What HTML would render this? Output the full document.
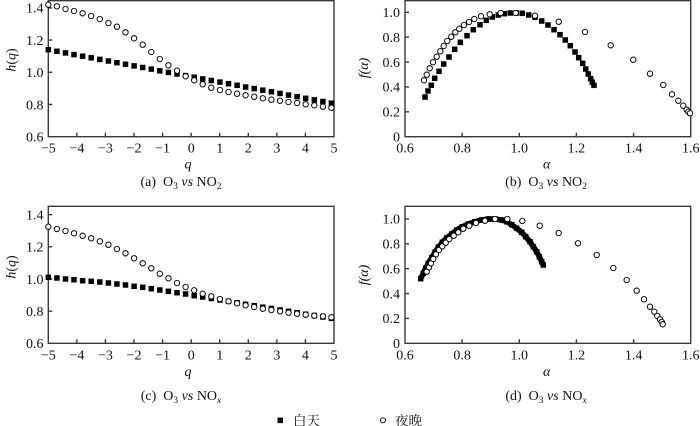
<!DOCTYPE html>
<html><head><meta charset="utf-8"><style>
html,body{margin:0;padding:0;background:#fff;}
svg{display:block;}
text{font-family:"Liberation Serif","Noto Serif CJK SC",serif;fill:#111;}
.t{font-size:14px;}
.cap{font-size:14px;}
.cj{font-family:"Liberation Serif","Noto Serif CJK SC","Noto Sans CJK SC",serif;font-size:13.5px;}
</style></head><body>
<svg width="700" height="426" viewBox="0 0 700 426" xmlns="http://www.w3.org/2000/svg" xmlns:xlink="http://www.w3.org/1999/xlink">
<defs>
<rect id="s" x="-2.75" y="-2.75" width="5.5" height="5.5" fill="#000"/>
</defs>
<rect width="700" height="426" fill="#fff"/>

<!-- ===== Panel (a) ===== -->
<g stroke="#3a3a3a" stroke-width="1.4" fill="none">
<rect x="48.3" y="0.7" width="285.7" height="136"/>
<path d="M48.3 104.5h4M48.3 72.3h4M48.3 40.1h4M48.3 7.9h4
M76.9 136.7v-4M105.4 136.7v-4M134 136.7v-4M162.6 136.7v-4M191.2 136.7v-4M219.7 136.7v-4M248.3 136.7v-4M276.9 136.7v-4M305.4 136.7v-4"/>
</g>
<g class="t" text-anchor="end">
<text x="43.5" y="141.5">0.6</text><text x="43.5" y="109.3">0.8</text><text x="43.5" y="77.1">1.0</text><text x="43.5" y="44.9">1.2</text><text x="43.5" y="12.7">1.4</text>
</g>
<g class="t" text-anchor="middle">
<text x="48.3" y="152.5">−5</text><text x="76.9" y="152.5">−4</text><text x="105.4" y="152.5">−3</text><text x="134" y="152.5">−2</text><text x="162.6" y="152.5">−1</text><text x="191.2" y="152.5">0</text><text x="219.7" y="152.5">1</text><text x="248.3" y="152.5">2</text><text x="276.9" y="152.5">3</text><text x="305.4" y="152.5">4</text><text x="334" y="152.5">5</text>
<text x="188" y="168.5" font-style="italic">q</text>
<text class="cap" x="181" y="186">(a)&#160;&#160;O<tspan font-size="9.5" dy="3">3</tspan><tspan dy="-3"> </tspan><tspan font-style="italic">vs</tspan> NO<tspan font-size="9.5" dy="3">2</tspan></text>
</g>
<text class="t" transform="translate(15.5,60) rotate(-90)" text-anchor="middle"><tspan font-style="italic">h</tspan>(<tspan font-style="italic">q</tspan>)</text>

<g>
<use href="#s" x="48.3" y="49.7"/><use href="#s" x="56.9" y="51.3"/><use href="#s" x="65.5" y="52.9"/><use href="#s" x="74.0" y="54.6"/><use href="#s" x="82.6" y="56.2"/><use href="#s" x="91.2" y="57.8"/><use href="#s" x="99.8" y="59.4"/><use href="#s" x="108.4" y="61.0"/><use href="#s" x="116.9" y="62.7"/><use href="#s" x="125.5" y="64.3"/><use href="#s" x="134.1" y="65.9"/><use href="#s" x="142.7" y="67.5"/><use href="#s" x="151.3" y="69.1"/><use href="#s" x="159.8" y="70.8"/><use href="#s" x="168.4" y="72.4"/><use href="#s" x="177.0" y="74.0"/><use href="#s" x="185.6" y="75.6"/><use href="#s" x="194.2" y="77.2"/><use href="#s" x="202.7" y="78.9"/><use href="#s" x="211.3" y="80.5"/><use href="#s" x="219.9" y="82.1"/><use href="#s" x="228.5" y="83.7"/><use href="#s" x="237.1" y="85.3"/><use href="#s" x="245.6" y="87.0"/><use href="#s" x="254.2" y="88.6"/><use href="#s" x="262.8" y="90.2"/><use href="#s" x="271.4" y="91.8"/><use href="#s" x="280.0" y="93.4"/><use href="#s" x="288.5" y="95.1"/><use href="#s" x="297.1" y="96.7"/><use href="#s" x="305.7" y="98.3"/><use href="#s" x="314.3" y="99.9"/><use href="#s" x="322.9" y="101.5"/><use href="#s" x="331.4" y="103.2"/>
</g>
<g fill="#fff" stroke="#000" stroke-width="0.95">
<circle cx="48.3" cy="4.7" r="2.7"/><circle cx="56.9" cy="6.3" r="2.7"/><circle cx="65.5" cy="9" r="2.7"/><circle cx="74.0" cy="11" r="2.7"/><circle cx="82.6" cy="13.3" r="2.7"/><circle cx="91.2" cy="16" r="2.7"/><circle cx="99.8" cy="19" r="2.7"/><circle cx="108.4" cy="23" r="2.7"/><circle cx="116.9" cy="26.7" r="2.7"/><circle cx="125.5" cy="32.3" r="2.7"/><circle cx="134.1" cy="38.3" r="2.7"/><circle cx="142.7" cy="44.7" r="2.7"/><circle cx="151.3" cy="52" r="2.7"/><circle cx="159.8" cy="59" r="2.7"/><circle cx="168.4" cy="65.3" r="2.7"/><circle cx="177.0" cy="70.7" r="2.7"/><circle cx="185.6" cy="76.3" r="2.7"/><circle cx="194.2" cy="80.3" r="2.7"/><circle cx="202.7" cy="84.3" r="2.7"/><circle cx="211.3" cy="87.7" r="2.7"/><circle cx="219.9" cy="90" r="2.7"/><circle cx="228.5" cy="92" r="2.7"/><circle cx="237.1" cy="93.7" r="2.7"/><circle cx="245.6" cy="95.3" r="2.7"/><circle cx="254.2" cy="96.7" r="2.7"/><circle cx="262.8" cy="98.3" r="2.7"/><circle cx="271.4" cy="99.7" r="2.7"/><circle cx="280.0" cy="100.7" r="2.7"/><circle cx="288.5" cy="102" r="2.7"/><circle cx="297.1" cy="103" r="2.7"/><circle cx="305.7" cy="104.3" r="2.7"/><circle cx="314.3" cy="105.3" r="2.7"/><circle cx="322.9" cy="106.7" r="2.7"/><circle cx="331.4" cy="107.7" r="2.7"/>
</g>

<!-- ===== Panel (c) ===== -->
<g stroke="#3a3a3a" stroke-width="1.4" fill="none">
<rect x="48.3" y="206.3" width="285.7" height="137"/>
<path d="M48.3 311.2h4M48.3 279h4M48.3 246.8h4M48.3 214.7h4
M76.9 343.3v-4M105.4 343.3v-4M134 343.3v-4M162.6 343.3v-4M191.2 343.3v-4M219.7 343.3v-4M248.3 343.3v-4M276.9 343.3v-4M305.4 343.3v-4"/>
</g>
<g class="t" text-anchor="end">
<text x="43.5" y="348.1">0.6</text><text x="43.5" y="316">0.8</text><text x="43.5" y="283.8">1.0</text><text x="43.5" y="251.6">1.2</text><text x="43.5" y="219.5">1.4</text>
</g>
<g class="t" text-anchor="middle">
<text x="48.3" y="359.3">−5</text><text x="76.9" y="359.3">−4</text><text x="105.4" y="359.3">−3</text><text x="134" y="359.3">−2</text><text x="162.6" y="359.3">−1</text><text x="191.2" y="359.3">0</text><text x="219.7" y="359.3">1</text><text x="248.3" y="359.3">2</text><text x="276.9" y="359.3">3</text><text x="305.4" y="359.3">4</text><text x="334" y="359.3">5</text>
<text x="188" y="376" font-style="italic">q</text>
<text class="cap" x="181" y="400">(c)&#160;&#160;O<tspan font-size="9.5" dy="3">3</tspan><tspan dy="-3"> </tspan><tspan font-style="italic">vs</tspan> NO<tspan font-size="9.5" font-style="italic" dy="3">x</tspan></text>
</g>
<text class="t" transform="translate(15.5,267) rotate(-90)" text-anchor="middle"><tspan font-style="italic">h</tspan>(<tspan font-style="italic">q</tspan>)</text>

<g>
<use href="#s" x="48.3" y="277.3"/><use href="#s" x="56.9" y="278"/><use href="#s" x="65.5" y="279"/><use href="#s" x="74.0" y="279.7"/><use href="#s" x="82.6" y="280.7"/><use href="#s" x="91.2" y="281.3"/><use href="#s" x="99.8" y="282"/><use href="#s" x="108.4" y="283"/><use href="#s" x="116.9" y="284"/><use href="#s" x="125.5" y="285"/><use href="#s" x="134.1" y="286.3"/><use href="#s" x="142.7" y="287.3"/><use href="#s" x="151.3" y="288.7"/><use href="#s" x="159.8" y="290"/><use href="#s" x="168.4" y="291.3"/><use href="#s" x="177.0" y="292.7"/><use href="#s" x="185.6" y="294"/><use href="#s" x="194.2" y="295.7"/><use href="#s" x="202.7" y="297"/><use href="#s" x="211.3" y="298.5"/><use href="#s" x="219.9" y="300"/><use href="#s" x="228.5" y="301.3"/><use href="#s" x="237.1" y="302.8"/><use href="#s" x="245.6" y="304.3"/><use href="#s" x="254.2" y="305.7"/><use href="#s" x="262.8" y="307.2"/><use href="#s" x="271.4" y="308.5"/><use href="#s" x="280.0" y="310"/><use href="#s" x="288.5" y="311.3"/><use href="#s" x="297.1" y="312.7"/><use href="#s" x="305.7" y="314.2"/><use href="#s" x="314.3" y="315.5"/><use href="#s" x="322.9" y="317"/><use href="#s" x="331.4" y="318.3"/>
</g>
<g fill="#fff" stroke="#000" stroke-width="0.95">
<circle cx="48.3" cy="226.7" r="2.7"/><circle cx="56.9" cy="229" r="2.7"/><circle cx="65.5" cy="231" r="2.7"/><circle cx="74.0" cy="233.3" r="2.7"/><circle cx="82.6" cy="235.7" r="2.7"/><circle cx="91.2" cy="238.3" r="2.7"/><circle cx="99.8" cy="241.3" r="2.7"/><circle cx="108.4" cy="244.7" r="2.7"/><circle cx="116.9" cy="249" r="2.7"/><circle cx="125.5" cy="253.3" r="2.7"/><circle cx="134.1" cy="258.3" r="2.7"/><circle cx="142.7" cy="263.3" r="2.7"/><circle cx="151.3" cy="268.3" r="2.7"/><circle cx="159.8" cy="273.7" r="2.7"/><circle cx="168.4" cy="278.3" r="2.7"/><circle cx="177.0" cy="283" r="2.7"/><circle cx="185.6" cy="287" r="2.7"/><circle cx="194.2" cy="290.3" r="2.7"/><circle cx="202.7" cy="293.7" r="2.7"/><circle cx="211.3" cy="296.3" r="2.7"/><circle cx="219.9" cy="299" r="2.7"/><circle cx="228.5" cy="301.3" r="2.7"/><circle cx="237.1" cy="303.3" r="2.7"/><circle cx="245.6" cy="305.3" r="2.7"/><circle cx="254.2" cy="307" r="2.7"/><circle cx="262.8" cy="308.7" r="2.7"/><circle cx="271.4" cy="310" r="2.7"/><circle cx="280.0" cy="311.3" r="2.7"/><circle cx="288.5" cy="312.7" r="2.7"/><circle cx="297.1" cy="313.7" r="2.7"/><circle cx="305.7" cy="314.7" r="2.7"/><circle cx="314.3" cy="315.7" r="2.7"/><circle cx="322.9" cy="316.3" r="2.7"/><circle cx="331.4" cy="317.3" r="2.7"/>
</g>

<!-- ===== Panel (b) ===== -->
<g stroke="#3a3a3a" stroke-width="1.4" fill="none">
<rect x="405" y="0.7" width="285.7" height="136"/>
<path d="M405 111.8h4M405 86.9h4M405 62.1h4M405 37.2h4M405 12.3h4
M462.1 136.7v-4M519.3 136.7v-4M576.4 136.7v-4M633.6 136.7v-4"/>
</g>
<g class="t" text-anchor="end">
<text x="400" y="141.5">0</text><text x="400" y="116.6">0.2</text><text x="400" y="91.7">0.4</text><text x="400" y="66.9">0.6</text><text x="400" y="42">0.8</text><text x="400" y="17.1">1.0</text>
</g>
<g class="t" text-anchor="middle">
<text x="405" y="152.5">0.6</text><text x="462.1" y="152.5">0.8</text><text x="519.3" y="152.5">1.0</text><text x="576.4" y="152.5">1.2</text><text x="633.6" y="152.5">1.4</text><text x="690.7" y="152.5">1.6</text>
<text x="546.7" y="168.5" font-style="italic">α</text>
<text class="cap" x="546" y="186">(b)&#160;&#160;O<tspan font-size="9.5" dy="3">3</tspan><tspan dy="-3"> </tspan><tspan font-style="italic">vs</tspan> NO<tspan font-size="9.5" dy="3">2</tspan></text>
</g>
<text class="t" transform="translate(368,68) rotate(-90)" text-anchor="middle" font-style="italic">f(α)</text>

<g>
<use href="#s" x="425" y="97"/><use href="#s" x="428" y="91"/><use href="#s" x="431.3" y="85.3"/><use href="#s" x="434.7" y="78.3"/><use href="#s" x="439" y="71.3"/><use href="#s" x="443.7" y="64"/><use href="#s" x="449" y="57"/><use href="#s" x="454.7" y="49.3"/><use href="#s" x="460.3" y="42.3"/><use href="#s" x="467" y="35.7"/><use href="#s" x="473.3" y="29.7"/><use href="#s" x="480" y="24.7"/><use href="#s" x="486.3" y="20.3"/><use href="#s" x="492.3" y="17"/><use href="#s" x="498.3" y="15"/><use href="#s" x="504.3" y="13.7"/><use href="#s" x="510.3" y="13"/><use href="#s" x="516.3" y="13"/><use href="#s" x="522.3" y="13.3"/><use href="#s" x="528.7" y="15"/><use href="#s" x="535" y="17.3"/><use href="#s" x="541.7" y="21"/><use href="#s" x="548" y="25"/><use href="#s" x="554" y="29.7"/><use href="#s" x="560" y="34.7"/><use href="#s" x="565.3" y="40"/><use href="#s" x="570.3" y="45.7"/><use href="#s" x="575" y="52"/><use href="#s" x="578.7" y="57.7"/><use href="#s" x="582.7" y="63.3"/><use href="#s" x="585.7" y="69"/><use href="#s" x="588.3" y="74"/><use href="#s" x="590.7" y="78.7"/><use href="#s" x="592.3" y="82.3"/><use href="#s" x="594" y="85.3"/>
</g>
<g fill="#fff" stroke="#000" stroke-width="0.95">
<circle cx="424" cy="80.3" r="2.7"/><circle cx="426.7" cy="74.7" r="2.7"/><circle cx="429.7" cy="68.3" r="2.7"/><circle cx="433" cy="62.3" r="2.7"/><circle cx="436.7" cy="56.7" r="2.7"/><circle cx="440.3" cy="51.3" r="2.7"/><circle cx="443.7" cy="46" r="2.7"/><circle cx="447.3" cy="41" r="2.7"/><circle cx="451.3" cy="36.7" r="2.7"/><circle cx="455.3" cy="32.3" r="2.7"/><circle cx="459.3" cy="28.7" r="2.7"/><circle cx="464" cy="25" r="2.7"/><circle cx="469" cy="22" r="2.7"/><circle cx="474.3" cy="19" r="2.7"/><circle cx="481" cy="16.3" r="2.7"/><circle cx="489.7" cy="14.3" r="2.7"/><circle cx="500.7" cy="13" r="2.7"/><circle cx="515.7" cy="13" r="2.7"/><circle cx="535" cy="15.7" r="2.7"/><circle cx="558.7" cy="21.7" r="2.7"/><circle cx="585" cy="32" r="2.7"/><circle cx="610.7" cy="45.3" r="2.7"/><circle cx="633.3" cy="59.7" r="2.7"/><circle cx="650" cy="73.7" r="2.7"/><circle cx="663.3" cy="85" r="2.7"/><circle cx="672" cy="94.3" r="2.7"/><circle cx="678.3" cy="100.7" r="2.7"/><circle cx="683.3" cy="105.7" r="2.7"/><circle cx="686.7" cy="109.7" r="2.7"/><circle cx="688.3" cy="111.7" r="2.7"/><circle cx="690" cy="113.3" r="2.7"/>
</g>

<!-- ===== Panel (d) ===== -->
<g stroke="#3a3a3a" stroke-width="1.4" fill="none">
<rect x="405" y="206.3" width="285.7" height="137"/>
<path d="M405 318.4h4M405 293.5h4M405 268.7h4M405 243.8h4M405 218.9h4
M462.1 343.3v-4M519.3 343.3v-4M576.4 343.3v-4M633.6 343.3v-4"/>
</g>
<g class="t" text-anchor="end">
<text x="400" y="348.1">0</text><text x="400" y="323.2">0.2</text><text x="400" y="298.3">0.4</text><text x="400" y="273.5">0.6</text><text x="400" y="248.6">0.8</text><text x="400" y="223.7">1.0</text>
</g>
<g class="t" text-anchor="middle">
<text x="405" y="359.3">0.6</text><text x="462.1" y="359.3">0.8</text><text x="519.3" y="359.3">1.0</text><text x="576.4" y="359.3">1.2</text><text x="633.6" y="359.3">1.4</text><text x="690.7" y="359.3">1.6</text>
<text x="546.7" y="376" font-style="italic">α</text>
<text class="cap" x="546" y="400">(d)&#160;&#160;O<tspan font-size="9.5" dy="3">3</tspan><tspan dy="-3"> </tspan><tspan font-style="italic">vs</tspan> NO<tspan font-size="9.5" font-style="italic" dy="3">x</tspan></text>
</g>
<text class="t" transform="translate(368,275) rotate(-90)" text-anchor="middle" font-style="italic">f(α)</text>

<polyline fill="none" stroke="#000" stroke-width="5.5" stroke-linejoin="round" points="420.7,278.7 423.3,273.3 425.7,268.3 428.3,263.3 431.7,257.7 435,252.3 438.3,247.3 442.3,242.3 446.7,238 451.7,234 456.7,230 462.3,226.7 468.3,224 475,221.7 481.7,220 488.3,219 495,219 501.7,220 506.7,221.7 511.7,224.7 516.7,228.3 521.7,232.3 525.7,236.7 530,241.7 533.3,246.7 536.7,251.7 539.3,256.7 541.7,261.7 543.3,265"/>
<g>
<use href="#s" x="420.7" y="278.7"/><use href="#s" x="423.3" y="273.3"/><use href="#s" x="425.7" y="268.3"/><use href="#s" x="428.3" y="263.3"/><use href="#s" x="431.7" y="257.7"/><use href="#s" x="435" y="252.3"/><use href="#s" x="438.3" y="247.3"/><use href="#s" x="442.3" y="242.3"/><use href="#s" x="446.7" y="238"/><use href="#s" x="451.7" y="234"/><use href="#s" x="456.7" y="230"/><use href="#s" x="462.3" y="226.7"/><use href="#s" x="468.3" y="224"/><use href="#s" x="475" y="221.7"/><use href="#s" x="481.7" y="220"/><use href="#s" x="488.3" y="219"/><use href="#s" x="495" y="219"/><use href="#s" x="501.7" y="220"/><use href="#s" x="506.7" y="221.7"/><use href="#s" x="511.7" y="224.7"/><use href="#s" x="516.7" y="228.3"/><use href="#s" x="521.7" y="232.3"/><use href="#s" x="525.7" y="236.7"/><use href="#s" x="530" y="241.7"/><use href="#s" x="533.3" y="246.7"/><use href="#s" x="536.7" y="251.7"/><use href="#s" x="539.3" y="256.7"/><use href="#s" x="541.7" y="261.7"/><use href="#s" x="543.3" y="265"/>
</g>
<g fill="#fff" stroke="#000" stroke-width="0.95">
<circle cx="426.7" cy="271.7" r="2.7"/><circle cx="429" cy="267.3" r="2.7"/><circle cx="431" cy="263.3" r="2.7"/><circle cx="433.3" cy="259" r="2.7"/><circle cx="436" cy="254.3" r="2.7"/><circle cx="439" cy="250" r="2.7"/><circle cx="442.3" cy="246.3" r="2.7"/><circle cx="445.7" cy="242.7" r="2.7"/><circle cx="449.3" cy="239" r="2.7"/><circle cx="453.7" cy="235.7" r="2.7"/><circle cx="458.3" cy="232.3" r="2.7"/><circle cx="463.3" cy="228.7" r="2.7"/><circle cx="469.3" cy="225.7" r="2.7"/><circle cx="476" cy="223" r="2.7"/><circle cx="485" cy="220.7" r="2.7"/><circle cx="495" cy="219" r="2.7"/><circle cx="507.3" cy="219" r="2.7"/><circle cx="522.3" cy="221" r="2.7"/><circle cx="539.7" cy="225.7" r="2.7"/><circle cx="558.7" cy="233" r="2.7"/><circle cx="578" cy="243.3" r="2.7"/><circle cx="596.7" cy="255" r="2.7"/><circle cx="613.3" cy="268" r="2.7"/><circle cx="626.7" cy="280" r="2.7"/><circle cx="636.7" cy="290.7" r="2.7"/><circle cx="644" cy="299.3" r="2.7"/><circle cx="650" cy="306.7" r="2.7"/><circle cx="654.3" cy="311.7" r="2.7"/><circle cx="657.3" cy="316" r="2.7"/><circle cx="660" cy="319.3" r="2.7"/><circle cx="661.7" cy="322" r="2.7"/><circle cx="662.7" cy="324.3" r="2.7"/>
</g>

<!-- ===== Legend ===== -->
<rect x="277.5" y="417.6" width="5.5" height="5.5" fill="#000"/>
<text class="cj" x="293" y="425.3">白天</text>
<circle cx="383" cy="420.3" r="2.5" fill="#fff" stroke="#000" stroke-width="0.95"/>
<text class="cj" x="395" y="425.3">夜晚</text>
</svg>
</body></html>
